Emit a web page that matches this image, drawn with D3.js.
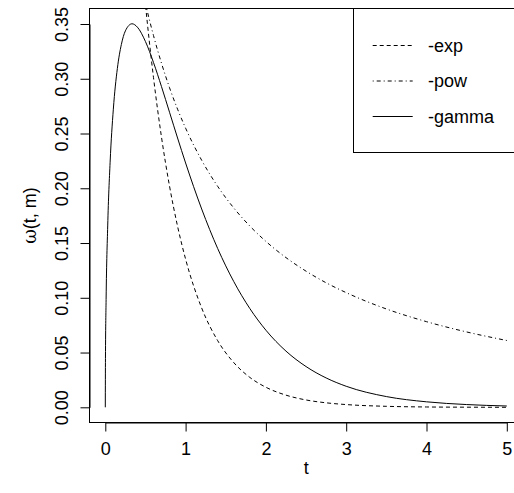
<!DOCTYPE html>
<html>
<head>
<meta charset="utf-8">
<script src="https://cdn.jsdelivr.net/npm/d3@7"></script>
<style>
  body { margin: 0; background: #fff; }
  svg { display: block; font-family: "Liberation Sans", Arial, sans-serif; }
</style>
</head>
<body>
<script>
// t grid for the gamma curve (dense near 0, where it rises steeply)
const tGamma = [0, 0.002, 0.01, 0.03, 0.06, 0.1, 0.15, 0.2, 0.25, 0.333, 0.4, 0.5, 0.6, 0.7, 0.8, 0.9,
                1.0, 1.2, 1.4, 1.6, 1.8, 2.0, 2.25, 2.5, 2.75, 3.0, 3.5, 4.0, 4.5, 5.0];
const gammaValues = [0, 0.0446, 0.0985, 0.1656, 0.2238, 0.2722, 0.3093, 0.3313, 0.3437, 0.3502, 0.3471,
                     0.3340, 0.3149, 0.2928, 0.2694, 0.2459, 0.2231, 0.1811, 0.1449, 0.1148, 0.0902,
                     0.0704, 0.0513, 0.0372, 0.0268, 0.0192, 0.0098, 0.0050, 0.0025, 0.0012];

// t grid for exp and pow (they come in from above the top of the plot)
const tDecay = [0.4, 0.5, 0.6, 0.7, 0.8, 0.9, 1.0, 1.2, 1.4, 1.6, 1.8, 2.0, 2.25, 2.5, 2.75, 3.0, 3.5, 4.0, 4.5, 5.0];
const expValues = [0.4493, 0.3679, 0.3012, 0.2466, 0.2019, 0.1653, 0.1353, 0.0907, 0.0608, 0.0408,
                   0.0273, 0.0183, 0.0111, 0.0067, 0.0041, 0.0025, 0.0009, 0.0003, 0.0001, 0.0000];
const powValues = [0.4030, 0.3688, 0.3395, 0.3141, 0.2918, 0.2722, 0.2549, 0.2256, 0.2017, 0.1820,
                   0.1655, 0.1515, 0.1367, 0.1243, 0.1137, 0.1047, 0.0898, 0.0782, 0.0688, 0.0610];

const xTicks = [0, 1, 2, 3, 4, 5];
const yTicks = [0, 0.05, 0.10, 0.15, 0.20, 0.25, 0.30, 0.35];
const legendLabels = ["-exp", "-pow", "-gamma"];

const width = 514, height = 493;
const fontSize = "18px";

// plot box (R style, 4% padding around the data range)
const box = { left: 89.5, right: 523, top: 8.5, bottom: 422.5 };

const xScale = d3.scaleLinear().domain([0, 5]).range([105.3, 506.8]);
const yScale = d3.scaleLinear().domain([0, 0.35]).range([407.3, 24]);

const svg = d3.select("body").append("svg")
    .attr("width", width)
    .attr("height", height);

svg.append("defs").append("clipPath").attr("id", "plotclip")
  .append("rect")
    .attr("x", box.left).attr("y", box.top)
    .attr("width", box.right - box.left).attr("height", box.bottom - box.top);

// curves
const line = d3.line()
    .x(d => xScale(d[0]))
    .y(d => yScale(d[1]))
    .curve(d3.curveMonotoneX);

const series = [
  { t: tDecay, v: expValues, dash: "4,3" },
  { t: tDecay, v: powValues, dash: "1,3,4,3" },
  { t: tGamma, v: gammaValues, dash: null }
];

const curves = svg.append("g").attr("clip-path", "url(#plotclip)");
series.forEach(s => {
  curves.append("path")
    .datum(s.t.map((t, i) => [t, s.v[i]]))
    .attr("d", line)
    .attr("fill", "none")
    .attr("stroke", "#000")
    .attr("stroke-width", 1)
    .attr("stroke-dasharray", s.dash);
});

// box
svg.append("rect")
    .attr("x", box.left).attr("y", box.top)
    .attr("width", box.right - box.left).attr("height", box.bottom - box.top)
    .attr("fill", "none").attr("stroke", "#000");

// axes
const xAxis = d3.axisBottom(xScale).tickValues(xTicks).tickFormat(d3.format("d")).tickSize(9).tickSizeOuter(0);
const yAxis = d3.axisLeft(yScale).tickValues(yTicks).tickFormat(d3.format(".2f")).tickSize(9).tickSizeOuter(0);

const gx = svg.append("g")
    .attr("transform", `translate(0,${box.bottom})`)
    .call(xAxis);
gx.selectAll("text").attr("y", 32.5).attr("dy", null)
    .style("font-size", fontSize).attr("fill", "#000");

const gy = svg.append("g")
    .attr("transform", `translate(${box.left},0)`)
    .call(yAxis);
gy.selectAll("text")
    .attr("transform", "rotate(-90)")
    .attr("x", 0).attr("y", -22).attr("dy", null)
    .attr("text-anchor", "middle")
    .style("font-size", fontSize).attr("fill", "#000");

svg.selectAll(".domain, .tick line").attr("stroke", "#000");

// axis titles
svg.append("text")
    .attr("x", (box.left + box.right) / 2).attr("y", 474)
    .attr("text-anchor", "middle")
    .style("font-size", fontSize)
    .text("t");

const ylab = svg.append("text")
    .attr("transform", `translate(36,${(box.top + box.bottom) / 2}) rotate(-90)`)
    .attr("text-anchor", "middle")
    .style("font-size", fontSize);
ylab.append("tspan").style("font-family", "'DejaVu Serif', serif").text("ω");
ylab.append("tspan").text("(t, m)");

// legend
const legend = svg.append("g");
legend.append("rect")
    .attr("x", 353.5).attr("y", box.top)
    .attr("width", box.right - 353.5).attr("height", 152.5 - box.top)
    .attr("fill", "#fff").attr("stroke", "#000");

const rowY = [45, 80.5, 116];
legendLabels.forEach((lab, i) => {
  legend.append("line")
    .attr("x1", 372.7).attr("x2", 412.7)
    .attr("y1", rowY[i] + 0.5).attr("y2", rowY[i] + 0.5)
    .attr("stroke", "#000")
    .attr("stroke-dasharray", series[i].dash);
  legend.append("text")
    .attr("x", 428).attr("y", rowY[i] + 6.5)
    .style("font-size", fontSize)
    .text(lab);
});
</script>
</body>
</html>
